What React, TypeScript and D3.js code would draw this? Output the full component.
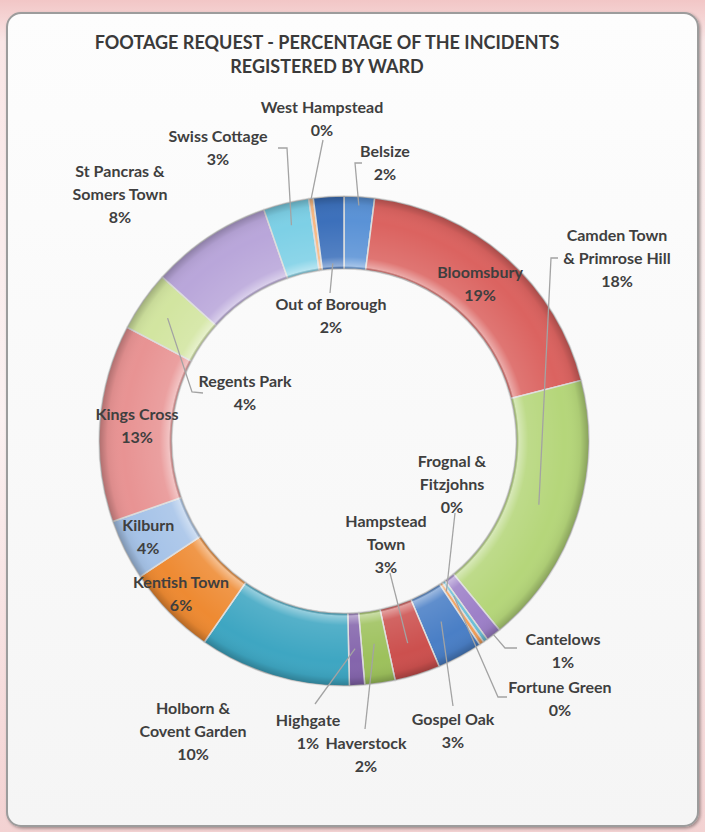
import React from 'react';
import * as d3 from 'd3';

// ---------- data ----------
const titleLines = ['FOOTAGE REQUEST - PERCENTAGE OF THE INCIDENTS', 'REGISTERED BY WARD'];

const wards = [
  'Belsize', 'Bloomsbury', 'Camden Town & Primrose Hill', 'Cantelows', 'Fortune Green',
  'Frognal & Fitzjohns', 'Gospel Oak', 'Hampstead Town', 'Haverstock', 'Highgate',
  'Holborn & Covent Garden', 'Kentish Town', 'Kilburn', 'Kings Cross', 'Regents Park',
  'St Pancras & Somers Town', 'Swiss Cottage', 'West Hampstead', 'Out of Borough',
];

// share of incidents (%) (0% wards drawn as slivers)
const shares = [2, 19, 18, 1, 0.3, 0.3, 3, 3, 2, 1, 10, 6, 4, 13, 4, 8, 3, 0.3, 2];

const percentLabels = [
  '2%', '19%', '18%', '1%', '0%', '0%', '3%', '3%', '2%', '1%',
  '10%', '6%', '4%', '13%', '4%', '8%', '3%', '0%', '2%',
];

// how each ward name is broken into lines on the chart
const nameLines = [
  ['Belsize'], ['Bloomsbury'], ['Camden Town', '& Primrose Hill'], ['Cantelows'], ['Fortune Green'],
  ['Frognal &', 'Fitzjohns'], ['Gospel Oak'], ['Hampstead', 'Town'], ['Haverstock'], ['Highgate'],
  ['Holborn &', 'Covent Garden'], ['Kentish Town'], ['Kilburn'], ['Kings Cross'], ['Regents Park'],
  ['St Pancras &', 'Somers Town'], ['Swiss Cottage'], ['West Hampstead'], ['Out of Borough'],
];

// ---------- styles / layout ----------
const sliceColors = [
  '#5a92d6', '#db6360', '#b5d67a', '#9d80c8', '#6cc0d8',
  '#f5a05a', '#4a7fc6', '#cc504e', '#9dc15c', '#8465ac',
  '#3ea6c2', '#ee8a32', '#a6c3e8', '#e89393', '#d2e5a0',
  '#b9a6da', '#7dd0e6', '#f8b882', '#3c70bb',
];

type LabelLayout =
  | { inside: true; dx: number; dy: number }
  | { x: number; y: number; path: [number, number][]; r: number };

// annotation placement (label centre x, first baseline y, leader start/elbow, leader end radius)
const labelLayout: LabelLayout[] = [
  { x: 385, y: 157, path: [[362, 163], [355, 163]], r: 236 },          // Belsize
  { inside: true, dx: -2, dy: 0 },                                      // Bloomsbury
  { x: 617, y: 241, path: [[558, 258], [551, 258]], r: 205 },          // Camden
  { x: 563, y: 645, path: [[517, 648], [505, 648]], r: 244 },          // Cantelows
  { x: 560, y: 693, path: [[507, 697], [498, 697]], r: 190 },          // Fortune Green
  { x: 452, y: 467, path: [[455, 513]], r: 182 },                      // Frognal
  { x: 453, y: 725, path: [[453, 706]], r: 205 },                      // Gospel Oak
  { x: 386, y: 527, path: [[390, 573]], r: 212 },                      // Hampstead Town
  { x: 366, y: 749, path: [[365, 729]], r: 205 },                      // Haverstock
  { x: 308, y: 726, path: [[315, 704]], r: 208 },                      // Highgate
  { x: 193, y: 714, path: [], r: 0 },                                  // Holborn
  { inside: true, dx: -14, dy: 8 },                                     // Kentish Town
  { inside: true, dx: -9, dy: 4 },                                      // Kilburn
  { inside: true, dx: 1, dy: 1 },                                       // Kings Cross
  { x: 245, y: 387, path: [[203, 393], [192, 392]], r: 215 },          // Regents Park
  { x: 120, y: 177, path: [], r: 0 },                                  // St Pancras
  { x: 218, y: 142, path: [[278, 148], [287, 148]], r: 222 },          // Swiss Cottage
  { x: 322, y: 113, path: [[323, 140]], r: 244 },                      // West Hampstead
  { x: 331, y: 310, path: [[330, 293]], r: 178 },                      // Out of Borough
];

const W = 705;
const H = 832;
const CX = 344;
const CY = 441;
const R_OUT = 245;
const R_IN = 172;
const LINE_H = 23;
const FONT = 'Lato, "Open Sans", sans-serif';
const TEXT_COLOR = '#3f3f3f';

export default function App() {
  const pie = d3.pie<number>().sort(null).value((d) => d);
  const arcs = pie(shares);
  const arc = d3.arc<d3.PieArcDatum<number>>().innerRadius(R_IN).outerRadius(R_OUT);
  const labelArc = d3
    .arc<d3.PieArcDatum<number>>()
    .innerRadius((R_IN + R_OUT) / 2)
    .outerRadius((R_IN + R_OUT) / 2);

  const polar = (a: number, r: number): [number, number] => [CX + r * Math.sin(a), CY - r * Math.cos(a)];

  const labels = arcs.map((d, i) => {
    const lay = labelLayout[i];
    const lines = [...nameLines[i], percentLabels[i]];
    if ('inside' in lay) {
      const [x, y] = labelArc.centroid(d);
      const x0 = CX + x + lay.dx;
      const top = CY + y + lay.dy - ((lines.length - 1) * LINE_H) / 2 + 5;
      return { x: x0, y: top, lines, leader: null as null | string };
    }
    let leader: string | null = null;
    if (lay.path.length) {
      const mid = (d.startAngle + d.endAngle) / 2;
      const pts = [...lay.path, polar(mid, lay.r)];
      leader = d3.line()(pts);
    }
    return { x: lay.x, y: lay.y, lines, leader };
  });

  const ri = R_IN / R_OUT;

  return (
    <svg
      width={W}
      height={H}
      viewBox={`0 0 ${W} ${H}`}
      style={{ position: 'absolute', left: 0, top: 0, display: 'block' }}
      fontFamily={FONT}
    >
      <defs>
        <linearGradient id="bg" x1="0" y1="0" x2="0" y2="1">
          <stop offset="0" stopColor="#f2c6c6" />
          <stop offset="0.05" stopColor="#f9e6e6" />
          <stop offset="0.5" stopColor="#fbf1f1" />
          <stop offset="1" stopColor="#f3d2d2" />
        </linearGradient>
        <linearGradient id="panel" x1="0" y1="0" x2="0" y2="1">
          <stop offset="0" stopColor="#fdfdfd" />
          <stop offset="1" stopColor="#f5f5f5" />
        </linearGradient>
        <filter id="shadow" x="-5%" y="-5%" width="110%" height="110%">
          <feDropShadow dx="1.5" dy="1.5" stdDeviation="1.5" floodColor="#000" floodOpacity="0.35" />
        </filter>
        <radialGradient id="bevel" gradientUnits="userSpaceOnUse" cx={0} cy={0} r={R_OUT}>
          <stop offset={ri} stopColor="#000" stopOpacity="0.2" />
          <stop offset={ri + 0.012} stopColor="#fff" stopOpacity="0.45" />
          <stop offset={ri + 0.05} stopColor="#fff" stopOpacity="0.12" />
          <stop offset={0.9} stopColor="#fff" stopOpacity="0" />
          <stop offset={0.965} stopColor="#000" stopOpacity="0.05" />
          <stop offset={1} stopColor="#000" stopOpacity="0.25" />
        </radialGradient>
      </defs>

      <rect x={0} y={0} width={W} height={H} fill="url(#bg)" />
      <rect
        x={7}
        y={13}
        width={691}
        height={813}
        rx={14}
        fill="url(#panel)"
        stroke="#9c9c9c"
        strokeWidth={2}
        filter="url(#shadow)"
      />

      {titleLines.map((t, i) => (
        <text
          key={t}
          x={327}
          y={49 + i * 24}
          textAnchor="middle"
          fontSize={18}
          fontWeight={700}
          fill="#3a3a3a"
        >
          {t}
        </text>
      ))}

      <g transform={`translate(${CX},${CY})`}>
        {arcs.map((d, i) => (
          <path key={wards[i]} d={arc(d) || ''} fill={sliceColors[i]} stroke="#dcdcdc" strokeWidth={1.5} />
        ))}
        {arcs.map((d, i) => (
          <path key={'bv' + wards[i]} d={arc(d) || ''} fill="url(#bevel)" stroke="none" />
        ))}
      </g>

      <g fill="none" stroke="#a3a3a3" strokeWidth={1.3}>
        {labels.map((l, i) => (l.leader ? <path key={'l' + wards[i]} d={l.leader} /> : null))}
      </g>

      <g fontSize={16} fontWeight={700} fill={TEXT_COLOR} textAnchor="middle">
        {labels.map((l, i) => (
          <text key={'t' + wards[i]} x={l.x} y={l.y}>
            {l.lines.map((s, j) => (
              <tspan key={j} x={l.x} y={l.y + j * LINE_H}>
                {s}
              </tspan>
            ))}
          </text>
        ))}
      </g>
    </svg>
  );
}
